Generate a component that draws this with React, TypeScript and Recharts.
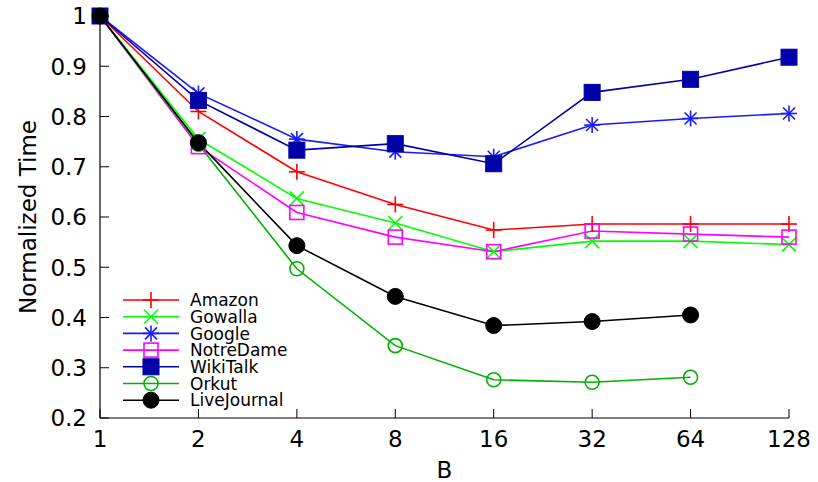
import { LineChart, Line, XAxis, YAxis } from "recharts";

const B_VALUES = [1, 2, 4, 8, 16, 32, 64, 128];
const Y_TICKS = [0.2, 0.3, 0.4, 0.5, 0.6, 0.7, 0.8, 0.9, 1];

const amazon = [1, 0.81, 0.69, 0.625, 0.574, 0.586, 0.586, 0.586];
const gowalla = [1, 0.755, 0.637, 0.588, 0.531, 0.552, 0.552, 0.545];
const google = [1, 0.846, 0.755, 0.73, 0.72, 0.783, 0.796, 0.806];
const notreDame = [1, 0.74, 0.609, 0.56, 0.531, 0.572, 0.566, 0.56];
const wikiTalk = [1, 0.832, 0.733, 0.746, 0.706, 0.848, 0.874, 0.918];
const orkut = [1, 0.745, 0.497, 0.344, 0.276, 0.271, 0.281, null];
const liveJournal = [1, 0.748, 0.543, 0.442, 0.384, 0.392, 0.405, null];

type Shape = "plus" | "cross" | "star" | "square" | "fsquare" | "circle" | "fcircle";

const SERIES: { key: string; name: string; color: string; shape: Shape; values: (number | null)[] }[] = [
  { key: "amazon", name: "Amazon", color: "#ff0000", shape: "plus", values: amazon },
  { key: "gowalla", name: "Gowalla", color: "#00ff00", shape: "cross", values: gowalla },
  { key: "google", name: "Google", color: "#1a1aff", shape: "star", values: google },
  { key: "notreDame", name: "NotreDame", color: "#ff00ff", shape: "square", values: notreDame },
  { key: "wikiTalk", name: "WikiTalk", color: "#0000a8", shape: "fsquare", values: wikiTalk },
  { key: "orkut", name: "Orkut", color: "#00b000", shape: "circle", values: orkut },
  { key: "liveJournal", name: "LiveJournal", color: "#000000", shape: "fcircle", values: liveJournal },
];

const data = B_VALUES.map((b, i) => {
  const row: Record<string, number | null> = { b };
  SERIES.forEach((s) => (row[s.key] = s.values[i]));
  return row;
});

const FONT = "'DejaVu Sans', sans-serif";

function marker(shape: Shape, cx: number, cy: number, color: string, key?: string | number) {
  const sw = 1.6;
  switch (shape) {
    case "plus":
      return (
        <g key={key} stroke={color} strokeWidth={sw}>
          <line x1={cx - 8} y1={cy} x2={cx + 8} y2={cy} />
          <line x1={cx} y1={cy - 8} x2={cx} y2={cy + 8} />
        </g>
      );
    case "cross":
      return (
        <g key={key} stroke={color} strokeWidth={sw}>
          <line x1={cx - 7} y1={cy - 7} x2={cx + 7} y2={cy + 7} />
          <line x1={cx - 7} y1={cy + 7} x2={cx + 7} y2={cy - 7} />
        </g>
      );
    case "star":
      return (
        <g key={key} stroke={color} strokeWidth={sw}>
          <line x1={cx - 8} y1={cy} x2={cx + 8} y2={cy} />
          <line x1={cx} y1={cy - 8} x2={cx} y2={cy + 8} />
          <line x1={cx - 6} y1={cy - 6} x2={cx + 6} y2={cy + 6} />
          <line x1={cx - 6} y1={cy + 6} x2={cx + 6} y2={cy - 6} />
        </g>
      );
    case "square":
      return <rect key={key} x={cx - 7} y={cy - 7} width={14} height={14} fill="none" stroke={color} strokeWidth={sw} />;
    case "fsquare":
      return <rect key={key} x={cx - 8} y={cy - 8} width={16} height={16} fill={color} stroke={color} />;
    case "circle":
      return <circle key={key} cx={cx} cy={cy} r={7} fill="none" stroke={color} strokeWidth={sw} />;
    default:
      return <circle key={key} cx={cx} cy={cy} r={8} fill={color} stroke={color} />;
  }
}

const BottomTick = (props: any) => {
  const { x, y, payload } = props;
  return (
    <g>
      <line x1={x} y1={y} x2={x} y2={y - 9} stroke="#000" strokeWidth={1} />
      <text x={x} y={y + 29} textAnchor="middle" fontSize={23} fontFamily={FONT} fill="#000">
        {payload.value}
      </text>
    </g>
  );
};

const TopTick = (props: any) => {
  const { x, y } = props;
  return <line x1={x} y1={y} x2={x} y2={y + 9} stroke="#000" strokeWidth={1} />;
};

const LeftTick = (props: any) => {
  const { x, y, payload } = props;
  const v = payload.value as number;
  return (
    <g>
      <line x1={x} y1={y} x2={x + 9} y2={y} stroke="#000" strokeWidth={1} />
      <text x={x - 13} y={y} dy="0.36em" textAnchor="end" fontSize={23} fontFamily={FONT} fill="#000">
        {v === 1 ? "1" : v.toFixed(1)}
      </text>
    </g>
  );
};

const RightTick = (props: any) => {
  const { x, y } = props;
  return <line x1={x} y1={y} x2={x - 9} y2={y} stroke="#000" strokeWidth={1} />;
};

function LegendBox() {
  return (
    <svg width={200} height={130} style={{ position: "absolute", left: 110, top: 290 }}>
      {SERIES.map((s, i) => {
        const cy = 10 + i * 16.7;
        return (
          <g key={s.key}>
            <line x1={13} y1={cy} x2={69} y2={cy} stroke={s.color} strokeWidth={1.6} />
            {marker(s.shape, 41, cy, s.color)}
            <text x={80} y={cy} dy="0.36em" fontSize={17} fontFamily={FONT} fill="#000">
              {s.name}
            </text>
          </g>
        );
      })}
    </svg>
  );
}

export default function App() {
  return (
    <div style={{ position: "relative", width: 818, height: 482, background: "#fff" }}>
      <style>{"body{margin:0}"}</style>
      <LineChart width={818} height={482} data={data} margin={{ top: 16, right: 29, bottom: 0, left: 0 }}>
        <XAxis
          dataKey="b"
          type="number"
          scale="log"
          domain={[1, 128]}
          ticks={B_VALUES}
          height={64}
          tickSize={0}
          tickMargin={0}
          tickLine={false}
          interval={0}
          axisLine={{ stroke: "#000", strokeWidth: 1.2 }}
          tick={BottomTick}
          label={(p: any) => {
            const vb = p.viewBox;
            return (
              <text x={vb.x + vb.width / 2} y={vb.y + 60} textAnchor="middle" fontSize={23} fontFamily={FONT} fill="#000">
                B
              </text>
            );
          }}
        />
        <XAxis
          xAxisId="top"
          orientation="top"
          dataKey="b"
          type="number"
          scale="log"
          domain={[1, 128]}
          ticks={B_VALUES}
          height={0}
          tickSize={0}
          tickMargin={0}
          tickLine={false}
          interval={0}
          axisLine={{ stroke: "#000", strokeWidth: 1.2 }}
          tick={TopTick}
        />
        <YAxis
          type="number"
          domain={[0.2, 1]}
          ticks={Y_TICKS}
          width={100}
          tickSize={0}
          tickMargin={0}
          tickLine={false}
          interval={0}
          axisLine={{ stroke: "#000", strokeWidth: 1.2 }}
          tick={LeftTick}
          label={(p: any) => {
            const vb = p.viewBox;
            const cx = vb.x + 28;
            const cy = vb.y + vb.height / 2;
            return (
              <text x={cx} y={cy} transform={`rotate(-90 ${cx} ${cy})`} textAnchor="middle" dy="0.36em" fontSize={23} fontFamily={FONT} fill="#000">
                Normalized Time
              </text>
            );
          }}
        />
        <YAxis
          yAxisId="right"
          orientation="right"
          type="number"
          domain={[0.2, 1]}
          ticks={Y_TICKS}
          width={0}
          tickSize={0}
          tickMargin={0}
          tickLine={false}
          interval={0}
          axisLine={{ stroke: "#000", strokeWidth: 1.2 }}
          tick={RightTick}
        />
        {SERIES.map((s) => (
          <Line
            key={s.key}
            dataKey={s.key}
            name={s.name}
            stroke={s.color}
            strokeWidth={1.6}
            isAnimationActive={false}
            connectNulls={false}
            dot={(p: any) =>
              p.value == null || p.cy == null ? <g key={p.index} /> : marker(s.shape, p.cx, p.cy, s.color, p.index)
            }
            activeDot={false}
          />
        ))}
      </LineChart>
      <LegendBox />
    </div>
  );
}
